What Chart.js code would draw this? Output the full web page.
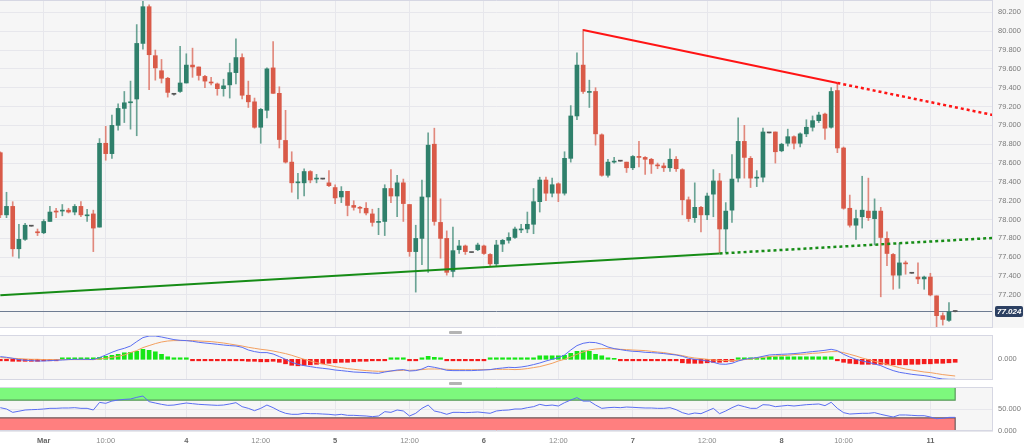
<!DOCTYPE html>
<html>
<head>
<meta charset="utf-8">
<script src="https://cdn.jsdelivr.net/npm/chart.js@4.4.1/dist/chart.umd.min.js"></script>
<style>
  html, body { margin: 0; padding: 0; background: #fff; }
  #wrap { position: relative; width: 1024px; height: 445px; overflow: hidden; }
  .pane { position: absolute; left: 0; }
  .grip { position: absolute; left: 449px; width: 13px; height: 3px; background: #b4b4b4; border-radius: 1px; }
</style>
</head>
<body>
<div id="wrap">
  <div class="pane" style="top:0"><canvas id="mainChart" width="1024" height="328"></canvas></div>
  <div class="grip" style="top:331px"></div>
  <div class="pane" style="top:334px"><canvas id="macdChart" width="1024" height="46"></canvas></div>
  <div class="grip" style="top:382px"></div>
  <div class="pane" style="top:386px"><canvas id="rsiChart" width="1024" height="59"></canvas></div>
</div>
<script>
"use strict";
// ========== DATA (hourly candles, index 0 = first visible bar) ========== //
const open = [78.71, 78.05, 78.14, 77.69, 77.79, 77.93, 77.87, 77.86, 77.98, 78.09,
  78.09, 78.10, 78.08, 78.14, 78.04, 78.06, 77.92, 78.81, 78.70, 79.00,
  79.18, 79.24, 79.28, 79.87, 80.26, 79.74, 79.58, 79.50, 79.33, 79.36,
  79.45, 79.64, 79.62, 79.52, 79.46, 79.44, 79.39, 79.43, 79.56, 79.72,
  79.32, 79.25, 78.98, 79.16, 79.61, 79.34, 78.84, 78.61, 78.39, 78.39,
  78.51, 78.43, 78.43, 78.39, 78.34, 78.24, 78.30, 78.15, 78.13, 78.12,
  78.06, 77.97, 77.98, 78.33, 78.25, 78.39, 78.16, 77.66, 77.80, 78.24,
  78.80, 77.97, 77.80, 77.45, 77.68, 77.72, 77.65, 77.68, 77.72, 77.63,
  77.53, 77.74, 77.78, 77.81, 77.89, 77.90, 77.95, 78.19, 78.42, 78.28,
  78.38, 78.28, 78.65, 79.10, 79.64, 79.35, 79.36, 78.90, 78.47, 78.61,
  78.62, 78.61, 78.55, 78.67, 78.66, 78.64, 78.58, 78.57, 78.55, 78.64,
  78.53, 78.21, 78.02, 78.13, 78.05, 78.27, 78.41, 77.90, 78.10, 78.44,
  78.83, 78.65, 78.44, 78.45, 78.92, 78.93, 78.73, 78.81, 78.88, 78.81,
  78.91, 78.98, 79.05, 79.12, 78.98, 79.37, 78.76, 78.12, 77.94, 78.03,
  78.09, 78.01, 78.09, 77.80, 77.63, 77.41, 77.54, 77.43, 77.39, 77.37,
  77.39, 77.19, 76.98, 76.93, 77.024];
const high = [78.72, 78.29, 78.19, 77.95, 77.96, 77.93, 77.90, 78.00, 78.14, 78.12,
  78.16, 78.12, 78.16, 78.19, 78.11, 78.10, 78.86, 78.99, 79.11, 79.23,
  79.36, 79.47, 80.07, 80.33, 80.28, 79.80, 79.70, 79.51, 79.34, 79.84,
  79.76, 79.82, 79.62, 79.53, 79.51, 79.45, 79.49, 79.66, 79.92, 79.76,
  79.47, 79.29, 79.18, 79.61, 79.89, 79.41, 79.16, 78.72, 78.49, 78.54,
  78.52, 78.48, 78.43, 78.52, 78.37, 78.35, 78.30, 78.20, 78.14, 78.18,
  78.11, 78.12, 78.37, 78.53, 78.47, 78.43, 78.16, 77.94, 78.42, 78.92,
  78.97, 78.22, 77.88, 77.92, 77.78, 77.73, 77.65, 77.75, 77.73, 77.64,
  77.78, 77.79, 77.86, 77.92, 77.95, 78.08, 78.33, 78.45, 78.45, 78.44,
  78.39, 78.72, 79.21, 79.77, 80.02, 79.48, 79.40, 78.91, 78.64, 78.66,
  78.62, 78.61, 78.68, 78.83, 78.67, 78.65, 78.60, 78.60, 78.75, 78.67,
  78.54, 78.24, 78.39, 78.14, 78.28, 78.53, 78.49, 78.18, 78.69, 79.08,
  79.00, 78.67, 78.52, 78.97, 78.92, 78.93, 78.81, 78.96, 78.89, 78.92,
  79.06, 79.10, 79.14, 79.13, 79.40, 79.45, 78.77, 78.26, 78.10, 78.46,
  78.44, 78.22, 78.13, 77.87, 77.64, 77.75, 77.56, 77.43, 77.54, 77.40,
  77.43, 77.19, 77.01, 77.12, 77.03];
const low = [78.02, 78.02, 77.61, 77.59, 77.78, 77.93, 77.83, 77.85, 77.98, 78.02,
  78.04, 78.07, 78.05, 78.03, 77.98, 77.66, 77.92, 78.63, 78.65, 78.95,
  79.03, 78.96, 78.89, 79.81, 79.38, 79.48, 79.45, 79.30, 79.32, 79.35,
  79.45, 79.51, 79.48, 79.40, 79.43, 79.32, 79.31, 79.29, 79.44, 79.28,
  79.19, 78.97, 78.81, 79.08, 79.34, 78.76, 78.60, 78.29, 78.22, 78.25,
  78.39, 78.39, 78.43, 78.35, 78.17, 78.18, 78.04, 78.10, 78.07, 78.05,
  77.93, 77.84, 77.83, 78.18, 78.03, 77.98, 77.61, 77.23, 77.52, 77.44,
  77.94, 77.59, 77.41, 77.39, 77.64, 77.63, 77.65, 77.67, 77.63, 77.50,
  77.51, 77.66, 77.75, 77.80, 77.86, 77.86, 77.85, 78.08, 78.20, 78.24,
  78.19, 78.26, 78.61, 79.06, 79.34, 79.19, 78.79, 78.46, 78.45, 78.60,
  78.62, 78.50, 78.53, 78.56, 78.48, 78.49, 78.54, 78.51, 78.51, 78.51,
  78.05, 77.98, 77.97, 77.87, 78.00, 78.03, 77.65, 77.65, 77.97, 78.40,
  78.44, 78.34, 78.35, 78.40, 78.92, 78.60, 78.72, 78.78, 78.75, 78.77,
  78.88, 78.94, 79.03, 78.85, 78.97, 78.71, 78.11, 77.92, 77.79, 77.91,
  77.99, 77.73, 77.18, 77.51, 77.26, 77.27, 77.42, 77.43, 77.32, 77.26,
  77.19, 76.85, 76.88, 76.92, 77.02];
const close = [78.05, 78.14, 77.69, 77.79, 77.94, 77.93, 77.86, 77.98, 78.08, 78.08,
  78.10, 78.08, 78.14, 78.05, 78.05, 77.91, 78.81, 78.70, 79.00, 79.18,
  79.24, 79.25, 79.87, 80.26, 79.75, 79.61, 79.50, 79.35, 79.33, 79.45,
  79.64, 79.62, 79.53, 79.47, 79.45, 79.39, 79.42, 79.56, 79.72, 79.32,
  79.25, 78.98, 79.17, 79.60, 79.34, 78.85, 78.61, 78.39, 78.40, 78.51,
  78.42, 78.44, 78.43, 78.36, 78.23, 78.30, 78.15, 78.13, 78.12, 78.07,
  77.97, 77.98, 78.33, 78.25, 78.39, 78.17, 77.66, 77.80, 78.24, 78.79,
  77.98, 77.80, 77.44, 77.67, 77.72, 77.66, 77.65, 77.73, 77.64, 77.53,
  77.73, 77.78, 77.81, 77.90, 77.90, 77.95, 78.19, 78.42, 78.28, 78.37,
  78.28, 78.65, 79.10, 79.64, 79.36, 79.36, 78.91, 78.47, 78.61, 78.62,
  78.62, 78.55, 78.67, 78.66, 78.64, 78.59, 78.57, 78.55, 78.64, 78.54,
  78.21, 78.01, 78.13, 78.05, 78.25, 78.41, 77.90, 78.09, 78.43, 78.83,
  78.66, 78.44, 78.45, 78.93, 78.92, 78.72, 78.80, 78.88, 78.81, 78.91,
  78.98, 79.05, 79.11, 78.97, 79.36, 78.76, 78.12, 77.94, 78.01, 78.10,
  78.02, 78.09, 77.81, 77.64, 77.41, 77.54, 77.53, 77.43, 77.37, 77.39,
  77.20, 76.98, 76.94, 77.02, 77.024];

const macdLine = [0.027, 0.020, 0.010, -0.003, -0.010, -0.013, -0.017, -0.017, -0.013, -0.010,
  -0.007, -0.003, 0, 0, 0, -0.003, 0.017, 0.043, 0.070, 0.093,
  0.110, 0.133, 0.177, 0.217, 0.233, 0.233, 0.223, 0.210, 0.197, 0.190,
  0.187, 0.180, 0.170, 0.163, 0.157, 0.150, 0.143, 0.137, 0.133, 0.120,
  0.093, 0.077, 0.067, 0.067, 0.053, 0.027, 0, -0.030, -0.050, -0.063,
  -0.073, -0.083, -0.090, -0.097, -0.107, -0.113, -0.120, -0.127, -0.130, -0.133,
  -0.137, -0.140, -0.127, -0.117, -0.107, -0.103, -0.117, -0.113, -0.097, -0.070,
  -0.080, -0.093, -0.110, -0.113, -0.113, -0.113, -0.113, -0.110, -0.107, -0.103,
  -0.093, -0.087, -0.080, -0.083, -0.077, -0.067, -0.053, -0.037, -0.017, 0,
  0.017, 0.043, 0.093, 0.137, 0.160, 0.170, 0.167, 0.150, 0.123, 0.107,
  0.097, 0.087, 0.080, 0.077, 0.070, 0.067, 0.063, 0.057, 0.050, 0.043,
  0.030, 0.010, 0, -0.007, -0.017, -0.030, -0.047, -0.050, -0.040, -0.017,
  0, 0.010, 0.017, 0.030, 0.043, 0.047, 0.050, 0.053, 0.057, 0.063,
  0.070, 0.077, 0.083, 0.090, 0.100, 0.087, 0.050, 0.023, 0, -0.017,
  -0.030, -0.047, -0.063, -0.090, -0.113, -0.130, -0.140, -0.150, -0.157, -0.163,
  -0.173, -0.187, -0.197, -0.200, -0.200];
const signalLine = [0.017, 0.013, 0.010, 0.007, 0.003, 0, 0, -0.003, -0.003, -0.003,
  -0.003, -0.003, -0.003, -0.003, -0.003, -0.003, 0.003, 0.010, 0.020, 0.030,
  0.043, 0.067, 0.087, 0.117, 0.137, 0.157, 0.173, 0.183, 0.187, 0.187,
  0.187, 0.187, 0.183, 0.180, 0.177, 0.170, 0.163, 0.153, 0.143, 0.133,
  0.120, 0.110, 0.100, 0.093, 0.083, 0.070, 0.057, 0.040, 0.020, 0,
  -0.017, -0.033, -0.047, -0.060, -0.073, -0.083, -0.093, -0.100, -0.107, -0.113,
  -0.117, -0.120, -0.120, -0.117, -0.113, -0.110, -0.110, -0.107, -0.103, -0.097,
  -0.097, -0.097, -0.100, -0.103, -0.103, -0.103, -0.103, -0.103, -0.103, -0.103,
  -0.100, -0.100, -0.100, -0.103, -0.100, -0.093, -0.083, -0.073, -0.057, -0.040,
  -0.017, 0, 0.023, 0.050, 0.073, 0.093, 0.103, 0.107, 0.107, 0.103,
  0.100, 0.097, 0.093, 0.090, 0.087, 0.080, 0.073, 0.067, 0.057, 0.047,
  0.037, 0.023, 0.013, 0.007, 0, -0.007, -0.010, -0.013, -0.013, -0.010,
  -0.003, 0.003, 0.013, 0.020, 0.027, 0.033, 0.037, 0.040, 0.047, 0.050,
  0.053, 0.060, 0.063, 0.070, 0.077, 0.077, 0.067, 0.050, 0.033, 0.013,
  -0.003, -0.020, -0.033, -0.050, -0.067, -0.083, -0.097, -0.107, -0.117, -0.127,
  -0.133, -0.143, -0.153, -0.160, -0.167];
const macdHist = [-0.015, -0.015, -0.02, -0.02, -0.02, -0.02, -0.02, -0.015, -0.015, -0.015,
  0.015, 0.015, 0.015, 0.015, 0.015, 0.015, 0.02, 0.03, 0.04, 0.05,
  0.065, 0.07, 0.08, 0.10, 0.09, 0.075, 0.05, 0.025, 0.015, 0.015,
  0.015, -0.015, -0.015, -0.015, -0.015, -0.015, -0.015, -0.015, -0.015, -0.015,
  -0.02, -0.02, -0.025, -0.025, -0.02, -0.03, -0.045, -0.06, -0.065, -0.06,
  -0.055, -0.05, -0.045, -0.04, -0.035, -0.03, -0.03, -0.025, -0.02, -0.02,
  -0.015, -0.015, -0.015, 0.015, 0.015, 0.015, -0.015, -0.015, 0.015, 0.03,
  0.02, 0.015, -0.015, -0.015, -0.015, -0.015, -0.015, -0.015, -0.015, 0.015,
  0.015, 0.015, 0.015, 0.015, 0.015, 0.015, 0.015, 0.035, 0.035, 0.035,
  0.035, 0.04, 0.06, 0.08, 0.085, 0.08, 0.05, 0.035, 0.015, 0.01,
  -0.015, -0.015, -0.015, -0.015, -0.015, -0.015, -0.015, -0.015, -0.015, -0.015,
  -0.035, -0.04, -0.04, -0.04, -0.035, -0.03, -0.03, -0.025, -0.02, 0.015,
  0.015, 0.015, 0.015, 0.015, 0.025, 0.025, 0.025, 0.025, 0.025, 0.025,
  0.025, 0.025, 0.025, 0.025, 0.025, -0.015, -0.03, -0.04, -0.045, -0.05,
  -0.05, -0.05, -0.05, -0.055, -0.055, -0.055, -0.055, -0.05, -0.05, -0.045,
  -0.045, -0.04, -0.04, -0.035, -0.03];
const rsiLine = [53, 50, 42.4, 45, 47.7, 48.5, 49, 50, 51.5, 51.5,
  52.3, 52.3, 53, 51.5, 51.5, 47.7, 65, 62.9, 68, 70.4,
  71.9, 72.7, 76.5, 79.5, 66.7, 63.6, 60.6, 58.3, 59, 61.4,
  63.6, 62.1, 60.6, 59.8, 59, 58.3, 59, 61.4, 64.4, 55.3,
  51.5, 46.2, 51.5, 59, 53, 45.5, 40.2, 37.9, 37.9, 40.2,
  39.4, 39.4, 38.6, 37.9, 36.4, 37.9, 35.6, 35.6, 34.8, 34.1,
  32.6, 34.1, 43.9, 42.4, 47.7, 45.5, 34.1, 40.2, 51.5, 59,
  45.5, 42.4, 37.9, 42.4, 42.4, 41.7, 42.4, 43.2, 41.7, 40.2,
  45.5, 47, 47.7, 50, 50, 53, 55.3, 60.6, 57.6, 59,
  56.8, 64.4, 70.4, 75.8, 68, 68, 59, 51.5, 53, 53.8,
  53, 54.5, 53.8, 53, 52.3, 52.3, 51.5, 51.5, 53, 48.5,
  41.7, 37.9, 40.9, 39.4, 45.5, 51.5, 39.4, 45.5, 53, 59,
  55.3, 51.5, 51.5, 59.8, 59, 55.3, 56.8, 58.3, 56.8, 58.3,
  59.8, 60.6, 61.4, 57.6, 65.2, 51.5, 41.7, 38.6, 39.4, 40.2,
  40.2, 41.7, 37.9, 34.8, 31.8, 36.4, 36.4, 35.6, 34.8, 34.8,
  31.8, 28, 28.8, 31, 31];

// x-axis ticks (bar index) and their labels
const tickPos = [7, 17, 30, 42, 54, 66, 78, 90, 102, 114, 126, 136, 150];
const tickLabels = ["Mar", "10:00", "4", "12:00", "5", "12:00", "6", "12:00", "7", "12:00", "8", "10:00", "11"];
const priceTicks = [77.2, 77.4, 77.6, 77.8, 78.0, 78.2, 78.4, 78.6, 78.8, 79.0, 79.2, 79.4, 79.6, 79.8, 80.0, 80.2];
const macdTicks = [0];
const rsiTicks = [0, 50];

// trend lines: [barIndex, price]
const supportLine = [[0, 77.196], [116, 77.640]];
const supportExt = [[116, 77.640], [160.1, 77.805]];
const resistLine = [[94, 80.012], [135, 79.450]];
const resistExt = [[135, 79.450], [160.1, 79.110]];
const lastPrice = 77.024;
const rsiUpper = 70;
const rsiLower = 30;

// ========== AXIS RANGES / STYLE ========== //
const X_MIN = -0.05, X_MAX = 160.1;
const BAND_END = close.length - 1;
const GRID = "#e7e7ec";
const FRAME = "#d6d7e3";
const PANE_BG = "#f6f6f6";
const FONT = '"Liberation Sans", Arial, sans-serif';

Chart.defaults.font.family = FONT;
Chart.defaults.font.size = 7.5;
Chart.defaults.color = "#777";
Chart.defaults.animation = false;
Chart.defaults.plugins.legend.display = false;
Chart.defaults.plugins.tooltip.enabled = false;

const toXY = pts => pts.map(p => ({ x: p[0], y: p[1] }));
const series = arr => arr.map((v, i) => ({ x: i, y: v }));
const isDay = i => tickLabels[i] && tickLabels[i].indexOf(":") < 0;

function candleColor(i, up, down, flat) {
  if (close[i] > open[i]) return up;
  if (close[i] < open[i]) return down;
  return flat;
}

// background + frame for every pane
const paneFrame = {
  id: "paneFrame",
  beforeDraw(chart, args, opts) {
    const { ctx, chartArea: a } = chart;
    ctx.save();
    ctx.fillStyle = PANE_BG;
    if (opts.full) ctx.fillRect(0, 0, chart.width, chart.height);
    else ctx.fillRect(a.left, a.top, a.right - a.left, a.bottom - a.top);
    ctx.restore();
  },
  afterDraw(chart) {
    const { ctx, chartArea: a } = chart;
    ctx.save();
    ctx.strokeStyle = FRAME;
    ctx.lineWidth = 1;
    ctx.beginPath();
    ctx.moveTo(a.left, a.top + 0.5); ctx.lineTo(a.right, a.top + 0.5);
    ctx.moveTo(a.left, a.bottom - 0.5); ctx.lineTo(a.right, a.bottom - 0.5);
    ctx.moveTo(a.right - 0.5, a.top); ctx.lineTo(a.right - 0.5, a.bottom);
    ctx.stroke();
    ctx.restore();
  }
};

// last price tag on the right axis
const priceTag = {
  id: "priceTag",
  afterDraw(chart) {
    const { ctx, chartArea: a } = chart;
    const y = chart.scales.y.getPixelForValue(lastPrice);
    ctx.save();
    ctx.fillStyle = "#2c4062";
    ctx.beginPath();
    ctx.roundRect(a.right + 2, y - 5.5, 28, 11, 2);
    ctx.fill();
    ctx.fillStyle = "#fff";
    ctx.font = "italic bold 8px " + FONT;
    ctx.textBaseline = "middle";
    ctx.fillText(lastPrice.toFixed(3), a.right + 4, y + 0.5);
    ctx.restore();
  }
};

function xAxis(showLabels) {
  return {
    type: "linear", min: X_MIN, max: X_MAX, offset: false,
    afterBuildTicks(s) { s.ticks = tickPos.map(v => ({ value: v })); },
    afterFit(s) { s.height = showLabels ? 14 : 0; s.paddingLeft = 0; s.paddingRight = 0; },
    grid: { color: GRID, drawTicks: false, offset: false },
    border: { display: false },
    ticks: {
      display: showLabels, autoSkip: false, maxRotation: 0, padding: 5,
      callback: (v, i) => tickLabels[i],
      font: c => ({ size: 7.5, family: FONT, weight: isDay(c.index) ? "bold" : "normal" }),
      color: c => isDay(c.index) ? "#666" : "#8a8a8a"
    }
  };
}

function yAxis(min, max, ticks, showGrid) {
  return {
    position: "right", min: min, max: max,
    afterBuildTicks(s) { s.ticks = ticks.map(v => ({ value: v })); },
    afterFit(s) { s.width = 31; s.paddingTop = 0; s.paddingBottom = 0; },
    grid: { display: showGrid, color: GRID, drawTicks: false },
    border: { display: false },
    ticks: { padding: 5, color: "#7a7a7a", callback: v => Number(v).toFixed(3) }
  };
}

function lineSet(data, color, width, dash, order) {
  return { type: "line", data: data, borderColor: color, borderWidth: width, borderDash: dash || [],
    pointRadius: 0, tension: 0, fill: false, order: order };
}

// ========== MAIN CANDLE CHART ========== //
new Chart(document.getElementById("mainChart"), {
  type: "bar",
  data: {
    datasets: [
      lineSet(toXY(supportLine), "#168c16", 2, null, 0),
      lineSet(toXY(supportExt), "#168c16", 2.5, [3, 3], 0),
      lineSet(toXY(resistLine), "#ff1414", 2, null, 0),
      lineSet(toXY(resistExt), "#ff1414", 2.5, [3, 3], 0),
      lineSet([{ x: X_MIN, y: lastPrice }, { x: X_MAX, y: lastPrice }], "#6e7c92", 1, null, 3),
      {
        data: close.map((c, i) => ({ x: i, y: [open[i], c] })),
        backgroundColor: c => candleColor(c.dataIndex, "#2f806b", "#d95a48", "#555"),
        barThickness: 4, minBarLength: 1, grouped: false, order: 1
      },
      {
        data: close.map((c, i) => ({ x: i, y: [low[i], high[i]] })),
        backgroundColor: c => candleColor(c.dataIndex, "rgba(47,128,107,0.7)", "rgba(217,90,72,0.7)", "#777"),
        barThickness: 1, grouped: false, order: 2
      }
    ]
  },
  options: {
    responsive: false, devicePixelRatio: 1,
    layout: { padding: 0 },
    scales: { x: xAxis(false), y: yAxis(76.849, 80.331, priceTicks, true) },
    plugins: { paneFrame: { full: true } }
  },
  plugins: [paneFrame, priceTag]
});

// ========== MACD PANE ========== //
new Chart(document.getElementById("macdChart"), {
  type: "bar",
  data: {
    datasets: [
      lineSet(series(macdLine), "#5a6ef2", 1, null, 0),
      lineSet(series(signalLine), "#f3a060", 1, null, 1),
      {
        data: series(macdHist),
        backgroundColor: c => c.raw.y >= 0 ? "#16e616" : "#f41c1c",
        barThickness: 4, order: 2
      }
    ]
  },
  options: {
    responsive: false, devicePixelRatio: 1,
    layout: { padding: { top: 1 } },
    scales: { x: xAxis(false), y: yAxis(-0.207, 0.243, macdTicks, false) },
    plugins: { paneFrame: { full: false } }
  },
  plugins: [paneFrame]
});

// ========== RSI PANE ========== //
new Chart(document.getElementById("rsiChart"), {
  type: "line",
  data: {
    datasets: [
      lineSet(series(rsiLine), "#5a6ef2", 1, null, 0),
      {
        data: [{ x: X_MIN, y: rsiUpper }, { x: BAND_END, y: rsiUpper }, { x: BAND_END, y: 100 }],
        borderColor: "#58985a", borderWidth: 1.2, backgroundColor: "#7df87d",
        fill: "end", pointRadius: 0, tension: 0, order: 1
      },
      {
        data: [{ x: X_MIN, y: rsiLower }, { x: BAND_END, y: rsiLower }, { x: BAND_END, y: 0 }],
        borderColor: "#6e5c5c", borderWidth: 1.2, backgroundColor: "#ff7f7f",
        fill: "start", pointRadius: 0, tension: 0, order: 1
      }
    ]
  },
  options: {
    responsive: false, devicePixelRatio: 1,
    layout: { padding: { top: 1 } },
    scales: { x: xAxis(true), y: yAxis(0, 100, rsiTicks, true) },
    plugins: { paneFrame: { full: false } }
  },
  plugins: [paneFrame]
});
</script>
</body>
</html>
